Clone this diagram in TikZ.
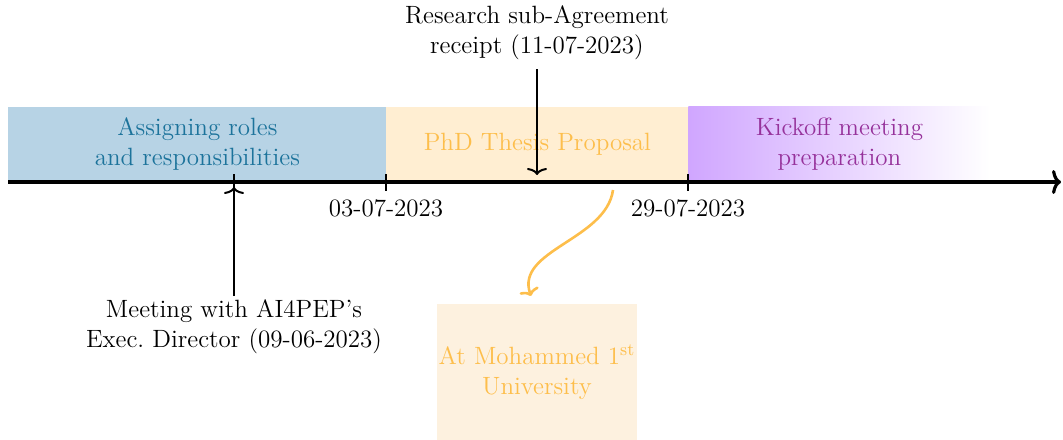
\documentclass[tikz,border=0pt]{standalone}
\usetikzlibrary{arrows.meta}
\definecolor{bluefill}{RGB}{183,211,229}
\definecolor{bluetext}{RGB}{28,115,155}
\definecolor{orangefill}{RGB}{255,238,210}
\definecolor{orangetext}{RGB}{253,190,75}
\definecolor{orangebox}{RGB}{253,241,223}
\definecolor{purplefill}{RGB}{208,166,255}
\definecolor{purpletext}{RGB}{150,50,155}
\tikzset{
  period/.style={minimum height=37.5pt, inner sep=0pt, align=center, anchor=south west},
  datelbl/.style={anchor=north, inner sep=1pt},
  evt/.style={align=center, inner sep=1pt},
  arr/.style={line width=1pt, -{To[length=3.5pt,width=10pt]}},
  axis/.style={line width=1.6pt, -{To[length=4.5pt,width=12pt]}},
  tick/.style={line width=1.4pt}
}
\begin{document}
\begin{tikzpicture}[x=0.5pt,y=-0.5pt,font=\fontsize{12.5}{15}\selectfont]
\useasboundingbox (0,0) rectangle (1063,439);
% periods
\node[period, fill=bluefill, text=bluetext, minimum width=189pt] (p1) at (8,182) {Assigning roles\\and responsibilities};
\node[period, fill=orangefill, text=orangetext, minimum width=151pt] (p2) at (386,182) {PhD Thesis Proposal};
\node[period, left color=purplefill, right color=white, text=purpletext, minimum width=151pt] (p3) at (688,182) {Kickoff meeting\\preparation};
% axis
\coordinate (a0) at (8,182);
\coordinate (a1) at (1061,182);
\draw[axis] (a0) -- (a1);
% ticks
\coordinate (t1) at (386,182);
\coordinate (t2) at (688,182);
\coordinate (t0) at (234,182);
\draw[tick] ([yshift=4pt]t1) -- ([yshift=-4.5pt]t1);
\draw[tick] ([yshift=4pt]t2) -- ([yshift=-4.5pt]t2);
\draw[tick] ([yshift=4pt]t0) -- ([yshift=-4.5pt]t0);
\node[datelbl] (d1) at (386,197) {03-07-2023};
\node[datelbl] (d2) at (688,197) {29-07-2023};
% events
\node[evt] (e1) at (537,33) {Research sub-Agreement\\receipt (11-07-2023)};
\coordinate (e1end) at (537,175);
\draw[arr] (537,69) -- (e1end);
\node[evt] (e2) at (234,327) {Meeting with AI4PEP's\\Exec.\ Director (09-06-2023)};
\coordinate (e2end) at (234,187);
\draw[arr] (234,296) -- (e2end);
% location box
\node[fill=orangebox, text=orangetext, minimum width=100pt, minimum height=68pt, align=center, inner sep=0pt, anchor=north] (loc) at (537,304) {At Mohammed 1\textsuperscript{st}\\University};
\coordinate (cs) at (613,190);
\draw[line width=1.3pt, orangetext, -{To[length=3.5pt,width=10pt]}] (cs) .. controls (606,240) and (515,250) .. ([xshift=-3pt,yshift=4pt]loc.north);
\end{tikzpicture}
\end{document}
